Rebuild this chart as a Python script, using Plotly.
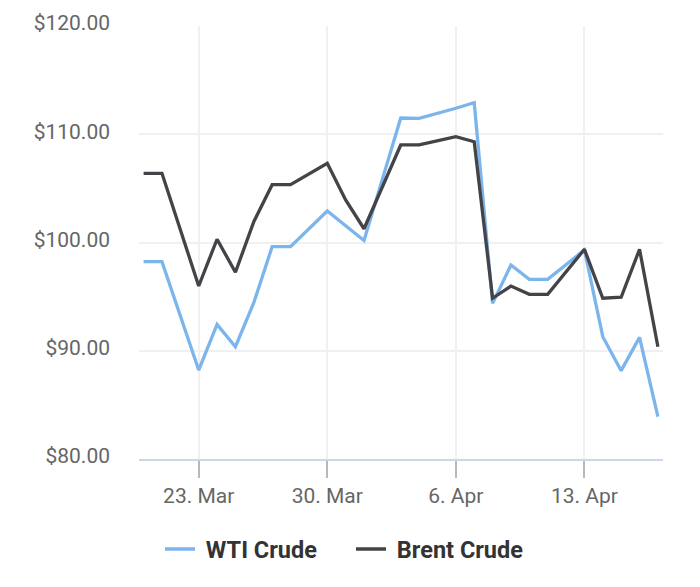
import plotly.graph_objects as go

# daily closes, gaps are days without a quote
dates = [
    "2026-03-20", "2026-03-21", "2026-03-23", "2026-03-24", "2026-03-25",
    "2026-03-26", "2026-03-27", "2026-03-28", "2026-03-30", "2026-03-31",
    "2026-04-01", "2026-04-03", "2026-04-04", "2026-04-06", "2026-04-07",
    "2026-04-08", "2026-04-09", "2026-04-10", "2026-04-11", "2026-04-13",
    "2026-04-14", "2026-04-15", "2026-04-16", "2026-04-17",
]
wti = [
    98.23, 98.23, 88.22, 92.44, 90.37, 94.44, 99.61, 99.61, 102.91, 101.55,
    100.18, 111.50, 111.47, 112.40, 112.91, 94.38, 97.92, 96.60, 96.60, 99.31,
    91.30, 88.16, 91.24, 83.91,
]
brent = [
    106.39, 106.39, 95.98, 100.30, 97.25, 101.92, 105.34, 105.34, 107.32, 103.93,
    101.27, 109.01, 109.01, 109.77, 109.31, 94.85, 95.98, 95.21, 95.21, 99.37,
    94.85, 94.94, 99.37, 90.37,
]
tick_dates = ["2026-03-23", "2026-03-30", "2026-04-06", "2026-04-13"]
y_ticks = [80, 90, 100, 110, 120]
y_labels = ["$%.2f" % v for v in y_ticks]

fig = go.Figure()
# nbsp in front of the names widens the gap after the legend line a bit
fig.add_trace(go.Scatter(x=dates, y=wti, name="\u00a0WTI Crude", mode="lines",
                         line=dict(color="#7cb5ec", width=3.3)))
fig.add_trace(go.Scatter(x=dates, y=brent, name="\u00a0Brent Crude", mode="lines",
                         line=dict(color="#434348", width=3.3)))

# page body has an 8px margin, so offsets are measured from there
fig.update_layout(
    width=700, height=587,
    margin=dict(l=131, r=45, t=18, b=136),
    paper_bgcolor="white", plot_bgcolor="white",
    font=dict(family="Roboto", size=21, color="#666666"),
    showlegend=True,
    legend=dict(orientation="h", xref="container", yref="container",
                x=0.49, xanchor="center", y=0.078, yanchor="middle",
                entrywidth=146, itemwidth=30,
                font=dict(family="Roboto", size=23.5, color="#333333", weight="bold")),
)
fig.update_xaxes(
    type="date", range=["2026-03-19 18:00", "2026-04-17 06:40"],
    tickvals=tick_dates, tickformat="%-d. %b",
    showgrid=True, gridcolor="#f0f0f0", gridwidth=1.5,
    showline=True, linecolor="#ccd6eb", linewidth=2,
    ticks="outside", ticklen=17, tickcolor="#b8b8b8", tickwidth=1.5,
    zeroline=False, automargin=False,
)
fig.update_yaxes(
    range=[80, 120], tickvals=y_ticks, ticktext=y_labels,
    showgrid=True, gridcolor="#f0f0f0", gridwidth=1.5,
    showline=False, zeroline=False, ticks="",
    ticklabelstandoff=28, ticklabelshift=-3, automargin=False,
)

fig.write_html("out.html")
